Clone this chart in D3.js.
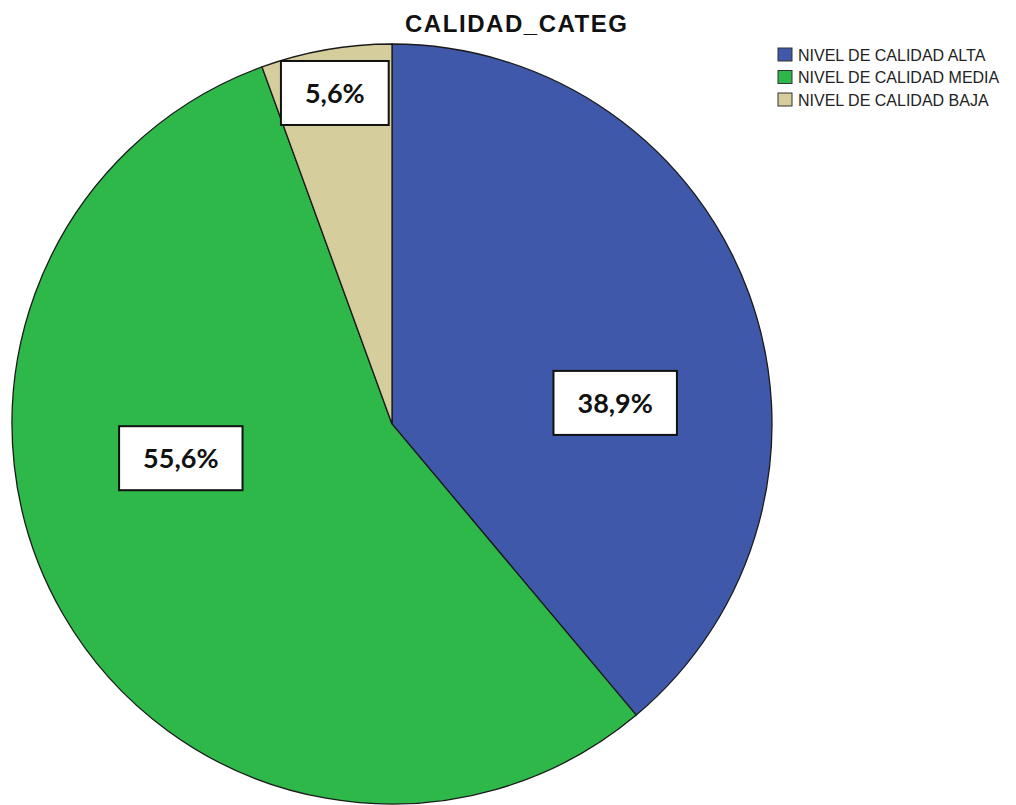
<!DOCTYPE html>
<html>
<head>
<meta charset="utf-8">
<script src="https://cdn.jsdelivr.net/npm/d3@7"></script>
<style>
  body { margin: 0; background: #fff; }
</style>
</head>
<body>
<script>
// pie of CALIDAD_CATEG (counts out of 18)
var categories = ["NIVEL DE CALIDAD ALTA", "NIVEL DE CALIDAD MEDIA", "NIVEL DE CALIDAD BAJA"];
var counts = [7, 10, 1];
var labels = ["38,9%", "55,6%", "5,6%"];
var colors = ["#3f58aa", "#2eb84a", "#d5ce9c"];

// where the label boxes sit: angle (deg, clockwise from top) and radius fraction
var labelAnchor = [[84.6, 0.59], [260.8, 0.563], [350.2, 0.884]];

var W = 1016, H = 805;
var cx = 392, cy = 424, R = 380;

var svg = d3.select("body").append("svg")
    .attr("width", W)
    .attr("height", H);

svg.append("text")
    .attr("x", 516)
    .attr("y", 32)
    .attr("text-anchor", "middle")
    .attr("textLength", 222)
    .style("font-family", "Liberation Sans, Arial, sans-serif")
    .style("font-weight", "bold")
    .style("font-size", "24px")
    .style("fill", "#111")
    .text("CALIDAD_CATEG");

var pie = d3.pie().sort(null).value(function(d) { return d; });
var arc = d3.arc().innerRadius(0).outerRadius(R);

var g = svg.append("g").attr("transform", "translate(" + cx + "," + cy + ")");

g.selectAll("path")
    .data(pie(counts))
    .enter()
    .append("path")
    .attr("d", arc)
    .style("fill", function(d, i) { return colors[i]; })
    .style("stroke", "#1a1a1a")
    .style("stroke-width", 1.3);

// label boxes
var lab = g.selectAll("g.lab")
    .data(labels)
    .enter()
    .append("g")
    .attr("class", "lab")
    .attr("transform", function(d, i) {
        var a = labelAnchor[i][0] * Math.PI / 180, r = labelAnchor[i][1] * R;
        return "translate(" + (r * Math.sin(a)) + "," + (-r * Math.cos(a)) + ")";
    });

var rects = lab.append("rect")
    .style("fill", "#fff")
    .style("stroke", "#111")
    .style("stroke-width", 2);

var texts = lab.append("text")
    .attr("text-anchor", "middle")
    .attr("dy", "0.36em")
    .style("font-family", "Lato, 'Open Sans', sans-serif")
    .style("font-weight", "bold")
    .style("font-size", "27px")
    .style("fill", "#111")
    .text(function(d) { return d; });

texts.each(function() {
    var bb = this.getBBox();
    var w = bb.width + 48, h = 64;
    d3.select(this.parentNode).select("rect")
        .attr("x", -w / 2).attr("y", -h / 2)
        .attr("width", w).attr("height", h);
});

// legend
var leg = svg.append("g").attr("transform", "translate(778,48)");
var rows = leg.selectAll("g")
    .data(categories)
    .enter()
    .append("g")
    .attr("transform", function(d, i) { return "translate(0," + (i * 22.5) + ")"; });

rows.append("rect")
    .attr("width", 14)
    .attr("height", 13)
    .style("fill", function(d, i) { return colors[i]; })
    .style("stroke", "#333")
    .style("stroke-width", 1);

rows.append("text")
    .attr("x", 20)
    .attr("y", 12.5)
    .style("font-family", "Liberation Sans, Arial, sans-serif")
    .style("font-size", "16px")
    .style("fill", "#222")
    .text(function(d) { return d; });
</script>
</body>
</html>
